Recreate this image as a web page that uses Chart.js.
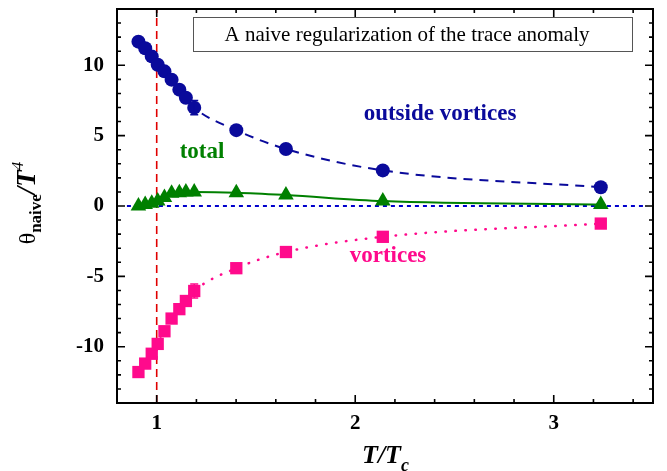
<!DOCTYPE html>
<html><head><meta charset="utf-8">
<script src="https://cdn.jsdelivr.net/npm/chart.js@4.4.0/dist/chart.umd.min.js"></script>
<style>html,body{margin:0;padding:0;background:#fff}#wrap{width:667px;height:471px;position:relative}</style>
</head><body><div id="wrap"><canvas id="c"></canvas></div>
<script>
// ---- data ----
const tOverTc = [0.908,0.942,0.975,1.005,1.039,1.075,1.114,1.147,1.189,1.401,1.651,2.139,3.237];
const outsideVortices = [11.68,11.21,10.63,10.04,9.57,8.98,8.27,7.69,6.99,5.39,4.05,2.53,1.33];
const outsideErr = [0,0,0,0,0,0,0,0,0.5,0,0,0,0];
const vortices = [-11.8,-11.2,-10.5,-9.8,-8.9,-8.0,-7.33,-6.75,-6.04,-4.42,-3.27,-2.19,-1.25];
const vorticesErr = [0,0,0,0,0,0,0,0,0.5,0,0,0,0];
const total = [0.0,0.1,0.2,0.35,0.6,0.9,0.95,1.0,1.0,0.95,0.78,0.35,0.1];
const xTicks = [1,2,3];
const yTicks = [-10,-5,0,5,10];
const xMinor = [0.8,1.2,1.4,1.6,1.8,2.2,2.4,2.6,2.8,3.2,3.4];
const yMinor = [-14,-13,-12,-11,-9,-8,-7,-6,-4,-3,-2,-1,1,2,3,4,6,7,8,9,11,12,13,14];
const tcLineX = [1,1];
const tcLineY = [-14,14];
const zeroLineX = [0.85,3.47];
const zeroLineY = [0,0];
const titleText = 'A naive regularization of the trace anomaly';
const seriesLabels = ['outside vortices','total','vortices'];

const SERIF = '"Liberation Serif","Times New Roman",serif';
const NAVY = '#0A0A9B', GREEN = '#008000', PINK = '#FF0A8C';

const pts = (xs, ys) => xs.map((x,i)=>({x, y: ys[i]}));

const errorBars = {
  id:'errorBars',
  afterDatasetsDraw(chart){
    const ctx = chart.ctx, xs = chart.scales.x, ys = chart.scales.y;
    chart.data.datasets.forEach((ds)=>{
      if(!ds.errors) return;
      ctx.save(); ctx.strokeStyle = ds.borderColor; ctx.lineWidth = 1.5;
      ds.data.forEach((p,i)=>{
        const e = ds.errors[i]; if(!e) return;
        const px = xs.getPixelForValue(p.x);
        const y1 = ys.getPixelForValue(p.y+e), y2 = ys.getPixelForValue(p.y-e);
        ctx.beginPath();
        ctx.moveTo(px,y1); ctx.lineTo(px,y2);
        ctx.moveTo(px-4,y1); ctx.lineTo(px+4,y1);
        ctx.moveTo(px-4,y2); ctx.lineTo(px+4,y2);
        ctx.stroke();
      });
      ctx.restore();
    });
  }
};

const frame = {
  id:'frame',
  afterDraw(chart){
    const ctx = chart.ctx, a = chart.chartArea, xs = chart.scales.x, ys = chart.scales.y;
    ctx.save();
    ctx.strokeStyle = '#000'; ctx.lineWidth = 2;
    ctx.strokeRect(a.left, a.top, a.right-a.left, a.bottom-a.top);
    ctx.lineWidth = 1.6;
    const tick = (v, len, axis) => {
      ctx.beginPath();
      if(axis==='x'){
        const px = xs.getPixelForValue(v);
        ctx.moveTo(px,a.bottom); ctx.lineTo(px,a.bottom-len);
        ctx.moveTo(px,a.top); ctx.lineTo(px,a.top+len);
      } else {
        const py = ys.getPixelForValue(v);
        ctx.moveTo(a.left,py); ctx.lineTo(a.left+len,py);
        ctx.moveTo(a.right,py); ctx.lineTo(a.right-len,py);
      }
      ctx.stroke();
    };
    xTicks.forEach(v=>tick(v,8,'x')); xMinor.forEach(v=>tick(v,4,'x'));
    yTicks.forEach(v=>tick(v,8,'y')); yMinor.forEach(v=>tick(v,4,'y'));

    // title box
    ctx.lineWidth = 1; ctx.strokeStyle = '#555';
    ctx.strokeRect(193.5, 17.5, 439, 34);
    ctx.fillStyle = '#000'; ctx.font = '21px '+SERIF;
    ctx.textAlign = 'center'; ctx.textBaseline = 'middle';
    ctx.fillText(titleText, 407, 35);

    // series labels
    ctx.font = 'bold 23px '+SERIF;
    ctx.fillStyle = NAVY; ctx.fillText(seriesLabels[0], 440, 114);
    ctx.fillStyle = GREEN; ctx.fillText(seriesLabels[1], 202, 152);
    ctx.fillStyle = PINK; ctx.fillText(seriesLabels[2], 388, 256);

    // x axis title T/Tc
    ctx.fillStyle = '#000'; ctx.textAlign = 'left'; ctx.textBaseline = 'alphabetic';
    ctx.font = 'italic bold 26px '+SERIF;
    let x0 = 362, yb = 463;
    ctx.fillText('T/T', x0, yb);
    let w = ctx.measureText('T/T').width;
    ctx.font = 'italic bold 18px '+SERIF;
    ctx.fillText('c', x0+w, yb+8);

    // y axis title
    ctx.save();
    ctx.translate(35, 203); ctx.rotate(-Math.PI/2);
    const parts = [
      {t:'\u03B8', f:'24px '+SERIF, dy:0},
      {t:'naive', f:'bold 17px '+SERIF, dy:6},
      {t:'/T', f:'italic bold 27px '+SERIF, dy:0},
      {t:'4', f:'italic 17px '+SERIF, dy:-12}
    ];
    let total_w = 0;
    parts.forEach(p=>{ctx.font=p.f; p.w=ctx.measureText(p.t).width; total_w+=p.w;});
    let cx = -total_w/2;
    parts.forEach(p=>{ctx.font=p.f; ctx.fillText(p.t, cx, p.dy); cx+=p.w;});
    ctx.restore();
    ctx.restore();
  }
};

new Chart(document.getElementById('c'), {
  type:'scatter',
  data:{datasets:[
    {label:seriesLabels[0], data:pts(tOverTc,outsideVortices), errors:outsideErr, showLine:true,
     borderColor:NAVY, backgroundColor:NAVY, borderWidth:2, borderDash:[9,7],
     pointStyle:'circle', pointRadius:7, pointBorderWidth:0, cubicInterpolationMode:'monotone', order:1},
    {label:seriesLabels[1], data:pts(tOverTc,total), showLine:true,
     borderColor:GREEN, backgroundColor:GREEN, borderWidth:2,
     pointStyle:'triangle', pointRadius:9, pointBorderWidth:0, cubicInterpolationMode:'monotone', order:2},
    {label:seriesLabels[2], data:pts(tOverTc,vortices), errors:vorticesErr, showLine:true,
     borderColor:PINK, backgroundColor:PINK, borderWidth:2.5, borderDash:[0.5,9.5], borderCapStyle:'round',
     pointStyle:'rect', pointRadius:8.7, pointBorderWidth:0, cubicInterpolationMode:'monotone', order:3},
    {label:'zero', data:pts(zeroLineX,zeroLineY), showLine:true, borderColor:'#0000CC', borderWidth:2,
     borderDash:[4,4], pointRadius:0, order:5},
    {label:'Tc', data:pts(tcLineX,tcLineY), showLine:true, borderColor:'#E00000', borderWidth:1.6,
     borderDash:[8,5], pointRadius:0, order:4}
  ]},
  options:{
    responsive:true, maintainAspectRatio:false, animation:false,
    layout:{padding:{left:0,top:5,right:14,bottom:0}},
    plugins:{legend:{display:false}, tooltip:{enabled:false}},
    scales:{
      x:{type:'linear', min:0.8, max:3.5,
        grid:{display:false, drawTicks:false, tickLength:0}, border:{display:false},
        afterBuildTicks:s=>{s.ticks = xTicks.map(v=>({value:v}));},
        afterFit:s=>{s.height = 68; s.paddingLeft = 0; s.paddingRight = 0;},
        ticks:{color:'#000', font:{family:SERIF, size:21, weight:'bold'}, padding:8, maxRotation:0, autoSkip:false}},
      y:{type:'linear', min:-14, max:14,
        grid:{display:false, drawTicks:false, tickLength:0}, border:{display:false},
        afterBuildTicks:s=>{s.ticks = yTicks.map(v=>({value:v}));},
        afterFit:s=>{s.width = 117; s.paddingTop = 0; s.paddingBottom = 0;},
        ticks:{color:'#000', font:{family:SERIF, size:21, weight:'bold'}, padding:13}}
    }
  },
  plugins:[errorBars, frame]
});
</script></body></html>
